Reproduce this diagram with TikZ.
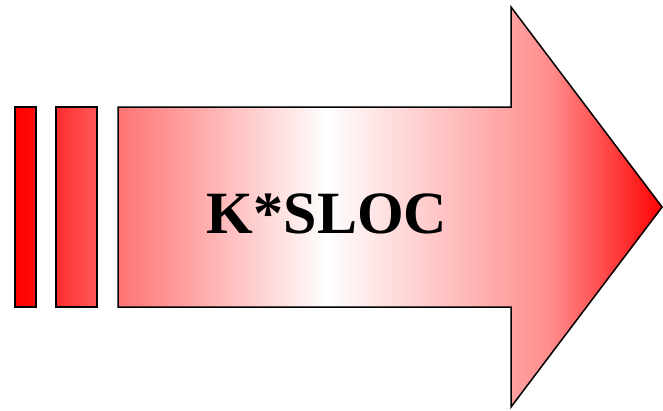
\documentclass[tikz,border=0pt]{standalone}
\usepackage{fontspec}
\setmainfont{Liberation Serif}
\begin{document}
\begin{tikzpicture}[x=1pt,y=-1pt,
  outline/.style={draw=black,line width=1.5pt,line join=miter}]
\useasboundingbox (0,0) rectangle (663,410);
% bars
\shade[left color=red, right color=red!95] (15,107) rectangle (36,307);
\draw[outline] (15,107) rectangle (36,307);
\shade[left color=red!82, right color=red!65] (56,107) rectangle (97,307);
\draw[outline] (56,107) rectangle (97,307);
% arrow
\begin{scope}
\clip (118,107) -- (511,107) -- (511,7) -- (663,207) -- (511,407) -- (511,307) -- (118,307) -- cycle;
\shade[left color=red!55, right color=white] (117,0) rectangle (327,410);
\shade[left color=white, right color=red!45] (326,0) rectangle (551,410);
\shade[left color=red!45, right color=red] (550,0) rectangle (664,410);
\end{scope}
\draw[outline] (118,107) -- (511,107) -- (511,7) -- (662,207) -- (511,407) -- (511,307) -- (118,307) -- cycle;
\node[font=\fontsize{60}{60}\selectfont\bfseries] (lbl) at (327,214) {K*SLOC};
\end{tikzpicture}
\end{document}
